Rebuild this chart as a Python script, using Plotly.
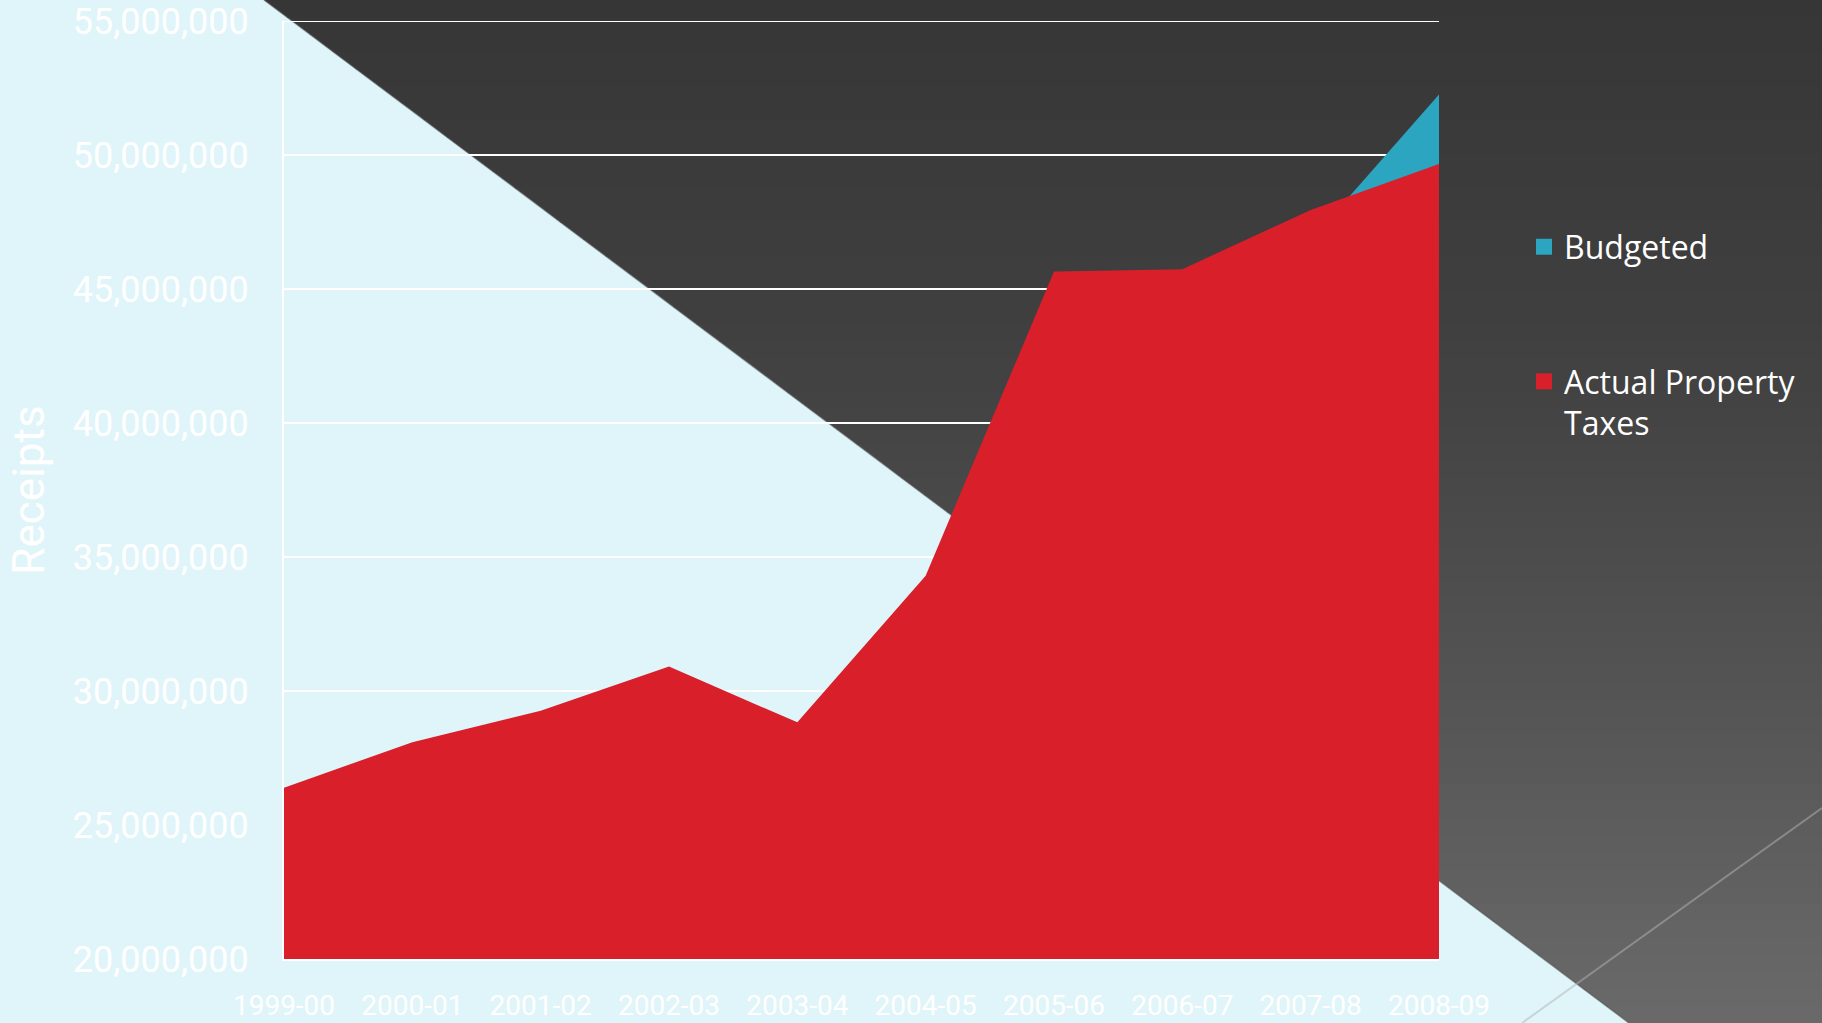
import plotly.graph_objects as go

# ---------------- data ----------------
years = ["1999-00", "2000-01", "2001-02", "2002-03", "2003-04",
         "2004-05", "2005-06", "2006-07", "2007-08", "2008-09"]
actual_taxes = [26390000, 28090000, 29260000, 30910000, 28830000,
                34300000, 45650000, 45740000, 47950000, 49660000]
budgeted = [25900000, 27600000, 28900000, 30200000, 28500000,
            33500000, 44800000, 45400000, 46810000, 52260000]
y_ticks = [20000000, 25000000, 30000000, 35000000, 40000000,
           45000000, 50000000, 55000000]

# ---------------- geometry helpers (decoration only) ----------------
W, H = 1822, 1023
ML, MR, MT, MB = 284, 383, 21, 64
PW, PH = W - ML - MR, H - MT - MB


def px(x):
    return (x - ML) / PW


def py(y):
    return (H - MB - y) / PH


def diag_x(y):
    # slide's diagonal edge: (264,0) -> (1629,1023)
    return 264 + (1629 - 264) * y / 1023.0


def dark_color(y):
    stops = [(0, 54), (340, 64), (680, 83), (1023, 106)]
    for (y0, c0), (y1, c1) in zip(stops[:-1], stops[1:]):
        if y <= y1:
            t = (y - y0) / (y1 - y0)
            c = int(round(c0 + t * (c1 - c0)))
            return f"rgb({c},{c},{c})"
    return "rgb(106,106,106)"


shapes = []
nb = 60
step = H / nb
for i in range(nb):
    y0 = i * step
    y1 = min(H, (i + 1) * step + 1.0)
    path = (f"M {px(diag_x(y0))},{py(y0)} L {px(W + 5)},{py(y0)} "
            f"L {px(W + 5)},{py(y1)} L {px(diag_x(y1))},{py(y1)} Z")
    shapes.append(dict(type="path", path=path, xref="paper", yref="paper",
                       fillcolor=dark_color((y0 + y1) / 2), line=dict(width=0),
                       layer="below"))
# soft edge on the diagonal
shapes.append(dict(type="line", xref="paper", yref="paper",
                   x0=px(264), y0=py(0), x1=px(1629), y1=py(1023),
                   line=dict(color="rgba(80,80,80,0.55)", width=1.5), layer="below"))
# thin crossing line at lower right
shapes.append(dict(type="line", xref="paper", yref="paper",
                   x0=px(1522), y0=py(1023), x1=px(1822), y1=py(808),
                   line=dict(color="rgba(179,179,179,0.5)", width=2), layer="below"))
# top gridline (at the upper end of the axis range)
shapes.append(dict(type="line", xref="paper", yref="y",
                   x0=0, x1=1, y0=y_ticks[-1], y1=y_ticks[-1],
                   line=dict(color="white", width=2), layer="below"))

TEAL = "#2CA5C1"
RED = "#D91F29"

fig = go.Figure()
fig.add_trace(go.Scatter(x=years, y=budgeted, name="Budgeted", mode="none",
                         fill="tozeroy", fillcolor=TEAL, showlegend=False,
                         hoverinfo="x+y+name"))
fig.add_trace(go.Scatter(x=years, y=actual_taxes, name="Actual Property Taxes",
                         mode="none", fill="tozeroy", fillcolor=RED,
                         showlegend=False, hoverinfo="x+y+name"))
# legend entries (square swatches)
fig.add_trace(go.Scatter(x=[None], y=[None], mode="markers", name="Budgeted",
                         marker=dict(symbol="square", size=17, color=TEAL),
                         legend="legend"))
fig.add_trace(go.Scatter(x=[None], y=[None], mode="markers",
                         name="Actual Property<br>Taxes",
                         marker=dict(symbol="square", size=17, color=RED),
                         legend="legend2"))

legend_font = dict(family="Open Sans, Lato, sans-serif", size=32, color="white")

fig.update_layout(
    width=W, height=H,
    margin=dict(l=ML, r=MR, t=MT, b=MB, autoexpand=False),
    paper_bgcolor="#DFF5F9",
    plot_bgcolor="rgba(0,0,0,0)",
    shapes=shapes,
    showlegend=True,
    legend=dict(x=px(1524), y=py(247), xanchor="left", yanchor="middle",
                font=legend_font, bgcolor="rgba(0,0,0,0)", borderwidth=0),
    legend2=dict(x=px(1524), y=py(354), xanchor="left", yanchor="top",
                 valign="top", font=legend_font, bgcolor="rgba(0,0,0,0)",
                 borderwidth=0),
    xaxis=dict(
        type="category", range=[0, len(years) - 1],
        showgrid=False, showline=True, linecolor="white", linewidth=2,
        ticks="outside", ticklen=20, tickcolor="rgba(0,0,0,0)",
        tickfont=dict(family="Roboto, sans-serif", size=28, color="white"),
        zeroline=False, fixedrange=True,
    ),
    yaxis=dict(
        range=[20000000, 55000000], tickvals=y_ticks, tickformat=",d",
        showgrid=True, gridcolor="white", gridwidth=2,
        showline=True, linecolor="white", linewidth=2,
        ticks="outside", ticklen=26, tickcolor="rgba(0,0,0,0)",
        tickfont=dict(family="Roboto, sans-serif", size=36, color="white"),
        title=dict(text="Receipts", standoff=14,
                   font=dict(family="Roboto, sans-serif", size=44, color="white")),
        zeroline=False, fixedrange=True,
    ),
)

fig.write_html("out.html", config={"displayModeBar": False},
               post_script="document.body.style.margin='0';document.body.style.overflow='hidden';")
